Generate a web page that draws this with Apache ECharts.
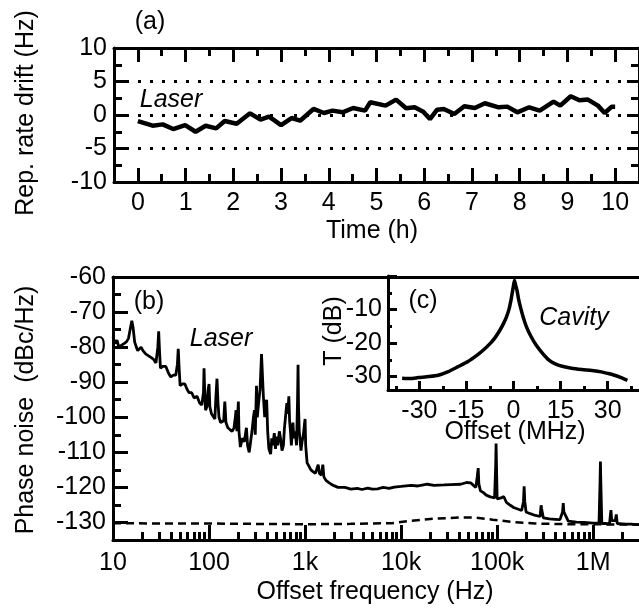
<!DOCTYPE html>
<html><head><meta charset="utf-8">
<script src="https://cdn.jsdelivr.net/npm/echarts@6/dist/echarts.min.js"></script>
<style>html,body{margin:0;padding:0;background:#fff}#c{width:639px;height:608px}</style>
</head><body><div id="c"></div>
<script>
// ---- data ----
const driftTimeH = [0,0.31,0.52,0.74,0.99,1.21,1.42,1.64,1.82,2.07,2.35,2.57,2.75,3.0,3.22,3.4,3.68,3.9,4.08,4.29,4.51,4.76,4.87,5.19,5.41,5.62,5.8,5.98,6.12,6.27,6.41,6.63,6.84,7.06,7.27,7.56,7.74,7.95,8.2,8.42,8.71,8.85,9.07,9.25,9.43,9.64,9.78,9.93,10.0];
const driftHz    = [-0.9,-1.6,-1.4,-2.1,-1.5,-2.5,-1.6,-2.0,-0.9,-1.3,0.25,-0.7,-0.25,-1.5,-0.45,-0.85,0.9,0.3,0.65,0.4,1.05,0.65,1.9,1.4,2.3,1.0,1.15,0.5,-0.6,0.8,0.9,0.15,1.3,1.05,1.75,1.15,1.25,0.4,1.15,0.65,2.0,1.4,2.8,2.2,2.3,1.4,0.3,1.25,1.25];

// [offset frequency (Hz), phase noise (dBc/Hz)]
const laserTrace = [[10,-77],[10.5,-79],[11,-78],[11.5,-80],[12.2,-79.5],[13,-79],[13.8,-78.5],[14.5,-77.5],[15.2,-74.5],[15.7,-72.5],[16.2,-74.5],[16.8,-78.5],[17.5,-80],[18.1,-81],[18.8,-80.5],[19.6,-80],[20.5,-81],[22,-82],[23.5,-82.5],[25,-83],[26.5,-83.5],[28,-84.5],[29.3,-80],[29.9,-75.5],[30.5,-81],[31.2,-86],[33,-85.5],[35.5,-85.5],[38,-87.5],[40,-88.5],[42.5,-88],[45,-88],[46.8,-85],[47.8,-80.5],[48.8,-86],[50,-91],[53,-90.5],[56,-90.5],[59,-92],[62,-93],[66,-93],[70,-94.5],[75,-94],[80,-96],[84,-96.5],[87.5,-93],[88.7,-86],[90,-92],[92,-98],[95,-97],[98,-92],[100,-90.5],[102,-97],[106,-99],[111,-99.5],[115,-100.5],[118,-94],[121,-89],[124,-96],[127,-100],[132,-101.5],[137,-102],[142,-101],[146,-95.5],[150,-101.5],[157,-103],[165,-103.5],[174,-104],[182,-103],[188,-100],[191,-98],[195,-104],[200,-98],[202,-95.5],[205,-104],[212,-108.5],[222,-106],[233,-107],[245,-103],[252,-108],[262,-110],[270,-109.5],[280,-104],[290,-100],[297,-98],[303,-105],[312,-91],[318,-100],[328,-96],[340,-92],[352,-82],[361,-81.5],[368,-94],[380,-100],[390,-96],[398,-95],[408,-104],[420,-109],[438,-110.5],[450,-106],[462,-108],[478,-104.5],[492,-109],[507,-105.5],[520,-108],[540,-104],[559,-106.5],[575,-109.5],[595,-108],[610,-103],[625,-100],[646,-96],[660,-99],[678,-94],[690,-101],[705,-104],[720,-108],[747,-101.5],[765,-106],[790,-104],[815,-108],[835,-95],[845,-85],[855,-97],[870,-104],[890,-107],[907,-109.5],[930,-107],[960,-105],[985,-102],[1000,-100.5],[1015,-108],[1050,-113],[1100,-114],[1150,-115],[1210,-115.5],[1280,-116],[1340,-115.5],[1370,-113.5],[1410,-116],[1480,-116.5],[1530,-113.5],[1570,-117],[1650,-118],[1740,-118.5],[1850,-119],[2000,-119.5],[2200,-120],[2600,-120],[3000,-120.5],[3500,-120.3],[3900,-120.6],[4500,-120.2],[5000,-120.5],[5700,-120.4],[6500,-120],[7500,-120.3],[8500,-119.9],[10000,-119.7],[12700,-119.4],[15000,-119.6],[18800,-119.1],[22000,-119.4],[28000,-119.3],[33000,-119.2],[41700,-119.1],[48000,-118.6],[53000,-118.7],[57000,-119.5],[60000,-120],[62000,-117],[63500,-114.5],[64500,-119],[67000,-121],[72000,-121.5],[77000,-122.2],[85000,-122.7],[94000,-123],[96500,-114],[97500,-107.5],[98500,-114],[100000,-123.3],[104000,-123.7],[110000,-123],[117000,-122.6],[125000,-124.3],[137000,-125.1],[150000,-125.8],[161000,-126.1],[180000,-126.6],[188000,-124],[191000,-119.7],[194000,-124],[200000,-127],[221000,-127.5],[250000,-128],[280000,-128.3],[285000,-126],[287000,-125.1],[290000,-126],[303000,-128.7],[350000,-129],[400000,-129.1],[451000,-129.2],[480000,-127],[488000,-124.5],[495000,-127],[550000,-129.6],[670000,-129.9],[800000,-130],[997000,-130.2],[1150000,-130.2],[1180000,-118],[1190000,-112.6],[1200000,-118],[1230000,-130.3],[1350000,-130.3],[1480000,-130.4],[1510000,-128],[1530000,-126.5],[1560000,-129.5],[1700000,-129.5],[1740000,-127.7],[1780000,-130.3],[2000000,-130.4],[2200000,-130.5],[2500000,-130.5],[2800000,-130.6],[3000000,-130.6]];

const floorTrace = [[10,-130.2],[30,-130.3],[100,-130.3],[300,-130.4],[1000,-130.5],[3000,-130.4],[8000,-130.2],[12000,-129.6],[20000,-129],[40000,-128.6],[60000,-128.6],[90000,-129.2],[150000,-129.9],[250000,-130.3],[600000,-130.5],[3000000,-130.6]];

// [offset (MHz), transmission (dB)]
const cavityTrace = [[-35.5,-30.5],[-33,-30.6],[-30.3,-30.3],[-27,-30],[-24,-29.6],[-21,-28.6],[-17.8,-27.1],[-14.5,-25.5],[-11.6,-23.6],[-9.5,-22],[-7.4,-20.1],[-5.8,-18.3],[-4.3,-16.1],[-3.2,-14.2],[-2.2,-12.1],[-1.4,-9.8],[-0.8,-7.2],[-0.4,-5],[-0.1,-3.4],[0.3,-1.3],[0.7,-2.8],[1.1,-4.2],[1.6,-6.8],[2.2,-9.2],[3.1,-12.3],[4.1,-15.1],[5.5,-17.9],[7.2,-20.6],[9.2,-23],[11.3,-25.1],[13.3,-26.2],[15.5,-26.9],[18.5,-27.5],[21.8,-27.9],[25,-28.2],[28,-28.6],[30.2,-29.1],[32.2,-29.6],[34.3,-30.3],[36.3,-31.1]];

const freqTickValues = [10,100,1000,10000,100000,1000000];
const freqTickLabels = ['10','100','1k','10k','100k','1M'];
const freqMinorTicks = [20,30,40,50,60,70,80,90,200,300,400,500,600,700,800,900,2000,3000,4000,5000,6000,7000,8000,9000,20000,30000,40000,50000,60000,70000,80000,90000,200000,300000,400000,500000,600000,700000,800000,900000,2000000];
const cavityTicks = [-30,-15,0,15,30];
const cavityMinorTicks = [-37.5,-22.5,-7.5,7.5,22.5,37.5];

// ---- chart ----
const FONT = "'Liberation Sans',Arial,sans-serif";
const FS = 25;
const K = '#000';
const FMIN = 10, FMAX = 3000000;
const lg = Math.log10;
const lbl = (extra) => Object.assign({color:K, fontFamily:FONT, fontSize:FS}, extra||{});
const line3 = {show:true, onZero:false, lineStyle:{color:K, width:3}};
const noLine = {show:false, onZero:false};
const tick = (len, extra) => Object.assign({show:true, inside:true, length:len, lineStyle:{color:K, width:3}}, extra||{});
const minor = (len) => ({show:true, splitNumber:2, length:len, lineStyle:{color:K, width:3}});

const GA = {left:114, top:48, width:528, height:134};
const GB = {left:113, top:277, width:530, height:263};
const GC = {left:388, top:276, width:256, height:114};
const cp = (g) => Object.assign({}, g);
const freqLabel = (v) => {
  const i = freqTickValues.findIndex(t => Math.abs(lg(t) - v) < 1e-6);
  return i >= 0 ? freqTickLabels[i] : '';
};

const chart = echarts.init(document.getElementById('c'), null, {renderer:'canvas'});
chart.setOption({
  animation:false,
  backgroundColor:'#fff',
  grid:[GA, GB, GC, cp(GB), cp(GC)],
  xAxis:[
    {gridIndex:0, type:'value', min:-0.5, max:10.5, splitNumber:11, position:'bottom',
     axisLine:line3, axisTick:tick(14), minorTick:minor(8),
     axisLabel:lbl({margin:9, showMinLabel:false, showMaxLabel:false}), splitLine:{show:false}},
    {gridIndex:0, type:'value', min:-0.5, max:10.5, splitNumber:11, position:'top',
     axisLine:line3, axisTick:tick(14), minorTick:minor(8),
     axisLabel:{show:false}, splitLine:{show:false}},
    // logarithmic frequency axis (decades)
    {gridIndex:1, type:'value', min:lg(FMIN), max:lg(FMAX), position:'bottom',
     axisLine:line3, axisTick:tick(15, {customValues:freqTickValues.map(lg)}),
     axisLabel:lbl({margin:11, customValues:freqTickValues.map(lg), formatter:freqLabel}),
     splitLine:{show:false}, minorTick:{show:false}},
    {gridIndex:1, type:'value', min:lg(FMIN), max:lg(FMAX), position:'top',
     axisLine:line3, axisTick:{show:false}, axisLabel:{show:false}, splitLine:{show:false}},
    {gridIndex:2, type:'value', min:-40, max:40, position:'bottom',
     axisLine:line3, axisTick:tick(9, {customValues:cavityTicks}),
     axisLabel:lbl({margin:9, customValues:cavityTicks}), splitLine:{show:false}},
    {gridIndex:3, type:'value', min:lg(FMIN), max:lg(FMAX), position:'bottom',
     axisLine:noLine, axisLabel:{show:false}, splitLine:{show:false},
     axisTick:tick(8, {customValues:freqMinorTicks.map(lg)})},
    {gridIndex:4, type:'value', min:-40, max:40, position:'bottom',
     axisLine:noLine, axisLabel:{show:false}, splitLine:{show:false},
     axisTick:tick(4, {customValues:cavityMinorTicks})}
  ],
  yAxis:[
    {gridIndex:0, type:'value', min:-10, max:10, interval:5, position:'left',
     axisLine:line3, axisTick:tick(13), minorTick:minor(8),
     axisLabel:lbl({margin:7}),
     splitLine:{show:true, lineStyle:{color:K, width:3, type:[3,9]}}},
    {gridIndex:0, type:'value', min:-10, max:10, interval:5, position:'right',
     axisLine:line3, axisTick:tick(12), minorTick:minor(8),
     axisLabel:{show:false}, splitLine:{show:false}},
    {gridIndex:1, type:'value', min:-135, max:-60, splitNumber:7, position:'left',
     axisLine:line3, axisTick:tick(15), minorTick:minor(8),
     axisLabel:lbl({margin:7, showMinLabel:false}), splitLine:{show:false}},
    {gridIndex:2, type:'value', min:-34, max:0, splitNumber:3, position:'left',
     axisLine:line3, axisTick:tick(9), minorTick:minor(4),
     axisLabel:lbl({margin:6, showMinLabel:false, showMaxLabel:false}), splitLine:{show:false}},
    {gridIndex:3, type:'value', show:false, min:0, max:1},
    {gridIndex:4, type:'value', show:false, min:0, max:1}
  ],
  series:[
    {type:'line', xAxisIndex:0, yAxisIndex:0, data:driftTimeH.map((t,i)=>[t, driftHz[i]]),
     showSymbol:false, smooth:false, lineStyle:{color:K, width:4.5}, z:3},
    {type:'line', xAxisIndex:2, yAxisIndex:2, data:floorTrace.map(([f,v])=>[lg(f), v]), showSymbol:false,
     lineStyle:{color:K, width:2.5, type:[8,5]}, z:2},
    {type:'line', xAxisIndex:2, yAxisIndex:2, data:laserTrace.map(([f,v])=>[lg(f), v]), showSymbol:false,
     lineStyle:{color:K, width:2.8}, z:3},
    {type:'line', xAxisIndex:4, yAxisIndex:3, data:cavityTrace, showSymbol:false, smooth:0.2,
     lineStyle:{color:K, width:3.5}, z:3}
  ],
  graphic:[
    {type:'text', x:26, y:113, rotation:Math.PI/2, style:{text:'Rep. rate drift (Hz)', font:FS+'px '+FONT, fill:K, textAlign:'center', textVerticalAlign:'middle'}},
    {type:'text', x:372, y:231, style:{text:'Time (h)', font:FS+'px '+FONT, fill:K, textAlign:'center', textVerticalAlign:'middle'}},
    {type:'text', x:150, y:22, style:{text:'(a)', font:FS+'px '+FONT, fill:K, textAlign:'center', textVerticalAlign:'middle'}},
    {type:'text', x:171, y:100, style:{text:'Laser', font:'italic '+FS+'px '+FONT, fill:K, textAlign:'center', textVerticalAlign:'middle'}},
    {type:'text', x:26, y:410, rotation:Math.PI/2, style:{text:'Phase noise  (dBc/Hz)', font:FS+'px '+FONT, fill:K, textAlign:'center', textVerticalAlign:'middle'}},
    {type:'text', x:375, y:592, style:{text:'Offset frequency (Hz)', font:FS+'px '+FONT, fill:K, textAlign:'center', textVerticalAlign:'middle'}},
    {type:'text', x:149, y:302, style:{text:'(b)', font:FS+'px '+FONT, fill:K, textAlign:'center', textVerticalAlign:'middle'}},
    {type:'text', x:221, y:339, style:{text:'Laser', font:'italic '+FS+'px '+FONT, fill:K, textAlign:'center', textVerticalAlign:'middle'}},
    {type:'text', x:423, y:301, style:{text:'(c)', font:FS+'px '+FONT, fill:K, textAlign:'center', textVerticalAlign:'middle'}},
    {type:'text', x:574, y:318, style:{text:'Cavity', font:'italic '+FS+'px '+FONT, fill:K, textAlign:'center', textVerticalAlign:'middle'}},
    {type:'text', x:334, y:331, rotation:Math.PI/2, style:{text:'T (dB)', font:FS+'px '+FONT, fill:K, textAlign:'center', textVerticalAlign:'middle'}},
    {type:'text', x:515, y:432, style:{text:'Offset (MHz)', font:FS+'px '+FONT, fill:K, textAlign:'center', textVerticalAlign:'middle'}}
  ]
});
</script></body></html>
